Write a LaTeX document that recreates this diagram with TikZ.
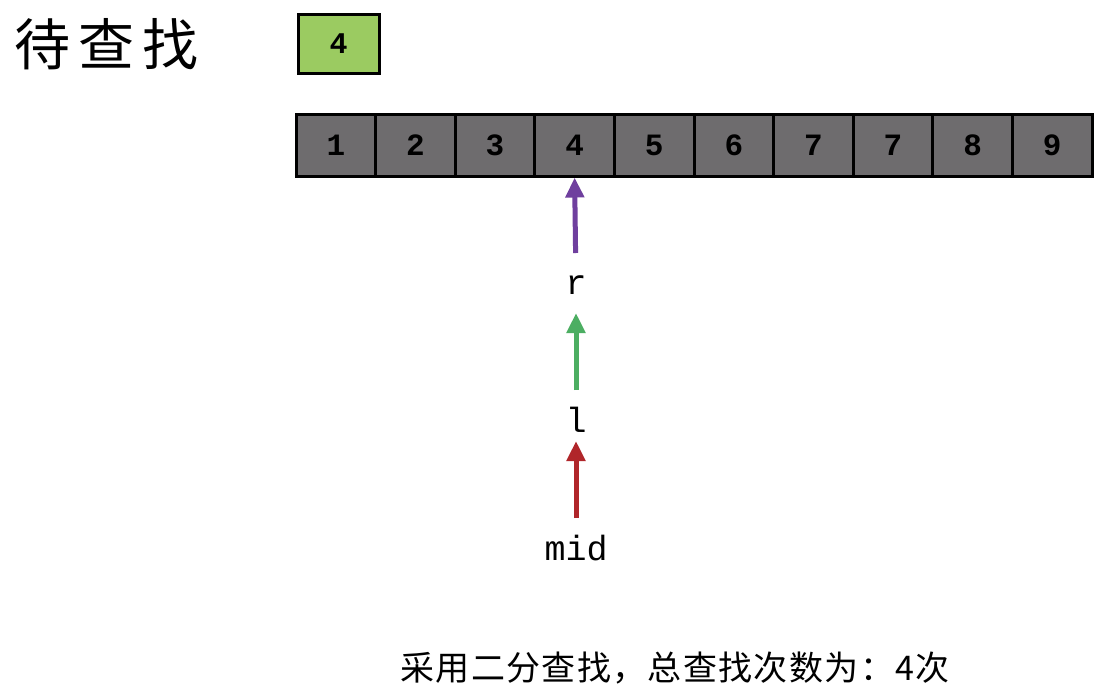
\documentclass[tikz,border=0pt]{standalone}
\usepackage{fontspec}
\usetikzlibrary{arrows.meta}
\newfontfamily\cjktitle[LetterSpace=15]{Noto Sans CJK SC}
\newfontfamily\cjktext[LetterSpace=4]{Noto Sans CJK SC}
\newfontfamily\mono{Liberation Mono}
\definecolor{cellgray}{HTML}{6E6C6E}
\definecolor{keygreen}{HTML}{9BCB61}
\definecolor{arrpurple}{HTML}{6F3F9E}
\definecolor{arrgreen}{HTML}{4CAE62}
\definecolor{arrred}{HTML}{B0262A}
\tikzset{
  cell/.style={draw=black, line width=3pt, fill=cellgray, minimum width=79.6pt, minimum height=62pt, inner sep=0pt, font=\mono\bfseries\fontsize{31}{31}\selectfont},
  keybox/.style={draw=black, line width=3pt, fill=keygreen, minimum width=81pt, minimum height=59pt, inner sep=0pt, font=\mono\bfseries\fontsize{30}{30}\selectfont},
  ptr/.style={font=\mono\fontsize{35}{35}\selectfont, inner sep=0pt},
  arr/.style={line width=5pt, -{Triangle[width=18pt,length=20pt]}},
}
\begin{document}
\begin{tikzpicture}[x=1pt,y=-1pt]
\useasboundingbox (0,0) rectangle (1099,696);
\fill[white] (0,0) rectangle (1099,696);
\node[font=\cjktitle\fontsize{56}{56}\selectfont, anchor=west, inner sep=0pt] (title) at (14,44) {待查找};
\node[keybox] (key) at (338.5,43.5) {4};
\foreach \v [count=\i] in {1,2,3,4,5,6,7,7,8,9} {
  \node[cell] (c\i) at ({296+79.6*(\i-0.5)},145) {\v};
}
\node[ptr] (r) at (576,285) {r};
\node[ptr] (l) at (576,420) {l};
\node[ptr] (mid) at (576,548) {mid};
\draw[arr, arrpurple, shorten <=32pt, shorten >=0pt] (r.center) -- (c4.south);
\draw[arr, arrgreen, shorten <=30pt, shorten >=28pt] (l.center) -- (r.center);
\draw[arr, arrred, shorten <=30pt, shorten >=21pt] (mid.center) -- (l.center);
\node[font=\cjktext\fontsize{34}{34}\selectfont, inner sep=0pt] (summary) at (675,668) {采用二分查找，总查找次数为：4次};
\end{tikzpicture}
\end{document}
